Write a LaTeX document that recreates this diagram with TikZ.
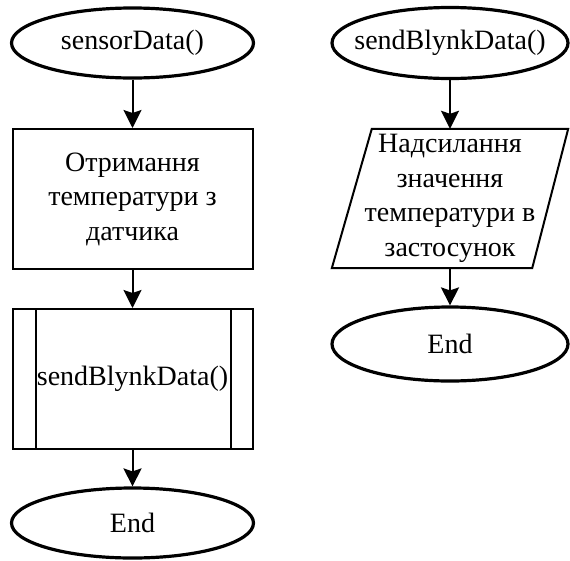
\documentclass[tikz,border=0pt]{standalone}
\usepackage{fontspec}
\setmainfont{Liberation Serif}
\usetikzlibrary{shapes.geometric, arrows.meta, calc}

\begin{document}
\begin{tikzpicture}[x=1pt, y=-1pt,
  every node/.style={font=\fontsize{28}{34.5}\selectfont, align=center},
  terminal/.style={draw, ellipse, line width=3.2pt, inner sep=0pt, fill=white},
  procbox/.style={draw, rectangle, line width=2pt, inner sep=0pt, fill=white},
  iobox/.style={rectangle, inner sep=0pt},
  edge line/.style={line width=2pt},
  flow/.style={line width=2pt, -{Stealth[length=18pt, width=18pt, inset=3pt]}}
]
\useasboundingbox[fill=white] (0,0) rectangle (570,560);

% left flow: sensorData()
\node[terminal, minimum width=242pt, minimum height=70pt] (s1) at (132.5,43) {\makebox[0pt]{sensorData()}};
\node[procbox, minimum width=240pt, minimum height=140pt] (r1) at (132.5,199) {Отримання\\температури з\\датчика};
\node[procbox, minimum width=240pt, minimum height=140pt] (p1) at (132.5,379) {\makebox[0pt]{sendBlynkData()}};
\draw[edge line] ($(p1.north west)+(24,0)$) -- ($(p1.south west)+(24,0)$);
\draw[edge line] ($(p1.north east)+(-23,0)$) -- ($(p1.south east)+(-23,0)$);
\node[terminal, minimum width=242pt, minimum height=70pt] (e1) at (132.5,523) {\makebox[0pt]{End}};

\draw[flow] (s1.south) -- (s1.south |- r1.north);
\draw[flow] (r1.south) -- (p1.north);
\draw[flow] (p1.south) -- (e1.north);

% right flow: sendBlynkData()
\node[terminal, minimum width=236pt, minimum height=71pt] (s2) at (450,43) {\makebox[0pt]{sendBlynkData()}};
\node[iobox, minimum width=236pt, minimum height=139pt] (io) at (450,198.5) {Надсилання\\значення\\температури в\\застосунок};
\draw[edge line, line join=miter] ($(io.north west)+(40,0)$) -- (io.north east)
  -- ($(io.south east)+(-36,0)$) -- (io.south west) -- cycle;
\node[terminal, minimum width=236pt, minimum height=74pt] (e2) at (450,344) {\makebox[0pt]{End}};

\draw[flow] (s2.south) -- (s2.south |- io.north);
\draw[flow] (s2.south |- io.south) -- (e2.north);
\end{tikzpicture}
\end{document}
